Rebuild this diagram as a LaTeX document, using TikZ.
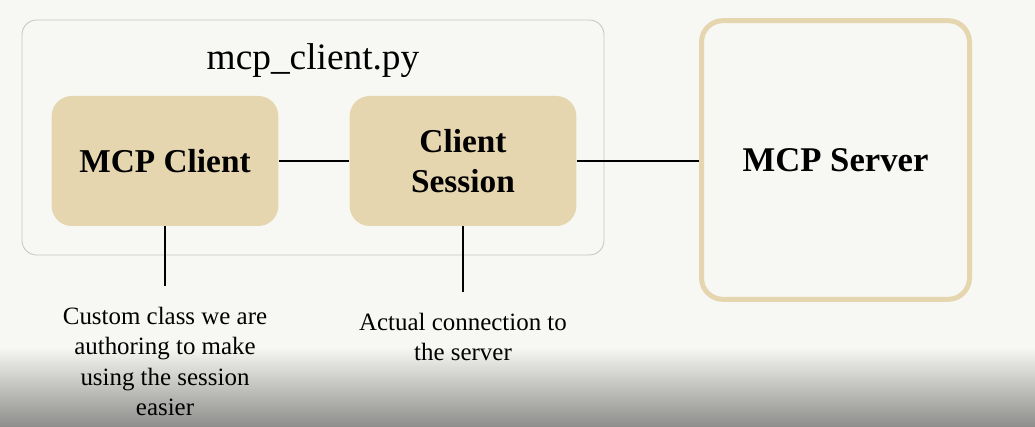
\documentclass[tikz,border=0pt]{standalone}
\usepackage{fontspec}
\setmainfont{Liberation Serif}
\definecolor{bgcream}{HTML}{F7F8F3}
\definecolor{sand}{HTML}{E6D6B0}
\definecolor{framegray}{HTML}{C4C4C0}
\definecolor{shadegray}{HTML}{8D8E8B}
\begin{document}
\begin{tikzpicture}[x=0.75pt,y=-0.75pt,
    container/.style={draw=framegray,line width=0.6pt,rounded corners=11pt,minimum width=436.5pt,minimum height=176.25pt},
    part/.style={fill=sand,rounded corners=15pt,minimum width=170pt,minimum height=97.5pt,align=center,font=\fontsize{25}{30}\selectfont\bfseries},
    server/.style={draw=sand,line width=3.75pt,rounded corners=16pt,minimum width=201pt,minimum height=209pt,font=\fontsize{26}{30}\selectfont\bfseries},
    note/.style={align=center,anchor=north,inner sep=0pt,font=\fontsize{18.7}{22.8}\selectfont},
    link/.style={line width=1pt}]
  \useasboundingbox (0,0) rectangle (1035,427);
  \fill[bgcream] (0,0) rectangle (1035,427);
  \shade[top color=bgcream,bottom color=shadegray] (0,347) rectangle (1035,427);
  \node[container] (file) at (313,137.5) {};
  \node[font=\fontsize{28}{32}\selectfont] (title) at (313,61) {mcp\textunderscore client.py};
  \node[part] (mcpclient) at (165,161) {MCP Client};
  \node[part] (session) at (463,161) {Client\\Session};
  \node[server] (server) at (835.5,160) {MCP Server};
  \draw[link] (mcpclient) -- (session);
  \draw[link] (session.east) -- (server.west |- session.east);
  \coordinate (clientend) at (165,286);
  \coordinate (sessionend) at (463,292);
  \draw[link] (mcpclient) -- (clientend);
  \draw[link] (session) -- (sessionend);
  \node[note] (clientnote) at (165,307) {Custom class we are\\authoring to make\\using the session\\easier};
  \node[note] (sessionnote) at (463,313) {Actual connection to\\the server};
\end{tikzpicture}
\end{document}
